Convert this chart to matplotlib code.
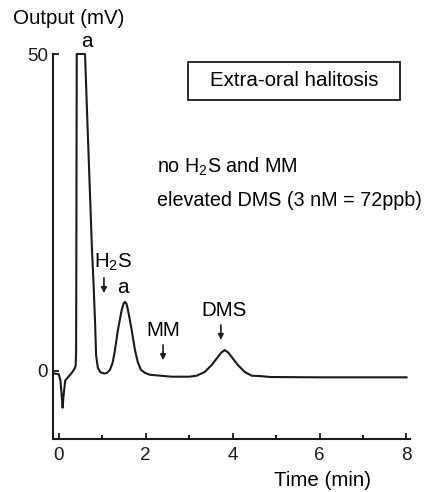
import matplotlib
matplotlib.use("Agg")
import matplotlib.pyplot as plt
from matplotlib.patches import Rectangle

plt.rcParams['font.family'] = ['Liberation Sans', 'DejaVu Sans']
plt.rcParams['mathtext.fontset'] = 'custom'
plt.rcParams['mathtext.rm'] = 'Liberation Sans'
plt.rcParams['mathtext.it'] = 'Liberation Sans:italic'

# detector trace, read point by point (detector saturates at 50 mV)
time_min = [-0.10, 0.00, 0.04, 0.07, 0.09, 0.11, 0.15, 0.20, 0.30, 0.36,
            0.39, 0.40, 0.405, 0.41, 0.415, 0.605, 0.674, 0.766, 0.80, 0.84,
            0.86, 0.90, 0.96, 1.05, 1.11, 1.18, 1.241, 1.294, 1.363, 1.448,
            1.49, 1.524, 1.56, 1.594, 1.678, 1.754, 1.823, 1.89, 1.984, 2.10,
            2.60, 3.00, 3.17, 3.36, 3.52, 3.66, 3.74, 3.82, 3.90, 3.98,
            4.12, 4.28, 4.44, 4.63, 4.86, 6.00, 8.00]
output_mv = [-0.4, -0.5, -1.5, -4.0, -5.8, -4.0, -1.5, -1.1, -0.3, 0.3,
             0.8, 3.0, 15.0, 35.0, 50.0, 50.0, 36.6, 19.0, 14.0, 7.0,
             2.5, 0.5, -0.2, -0.4, -0.3, 0.2, 1.3, 3.3, 6.5, 9.6,
             10.6, 10.9, 10.6, 9.6, 6.5, 3.3, 1.3, 0.2, -0.3, -0.6,
             -0.9, -0.9, -0.75, -0.15, 0.95, 2.2, 2.9, 3.3, 2.9, 2.2,
             0.95, -0.15, -0.75, -0.8, -0.95, -1.0, -1.0]

x_major = [0, 2, 4, 6, 8]
x_minor = [1, 3, 5, 7]
y_ticks = [0, 50]

fig = plt.figure(figsize=(4.30, 4.92), dpi=100)
ax = fig.add_axes([0.1244, 0.1077, 0.829, 0.7825])

ax.plot(time_min, output_mv, color='#1a1a1a', lw=1.5, clip_on=False,
        solid_joinstyle='round')

ax.set_xlim(-0.12, 8.08)
ax.set_ylim(-10.73, 50)
ax.set_xticks(x_major)
ax.set_xticks(x_minor, minor=True)
ax.set_yticks(y_ticks)
ax.tick_params(direction='in', length=4, width=1.3, labelsize=13.5, colors='#1a1a1a')
ax.tick_params(axis='x', which='minor', direction='in', length=3, width=1.3)
ax.tick_params(axis='x', pad=6)
ax.tick_params(axis='y', pad=4)
for side in ('top', 'right'):
    ax.spines[side].set_visible(False)
for side in ('left', 'bottom'):
    ax.spines[side].set_linewidth(1.5)
    ax.spines[side].set_color('#1a1a1a')

fs = 14.8
fig.text(69 / 430, 1 - 18 / 492, 'Output (mV)', ha='center', va='center', fontsize=fs)
fig.text(323 / 430, 1 - 480 / 492, 'Time (min)', ha='center', va='center', fontsize=fs)

# peak labels and arrows
ax.text(0.65, 51.9, 'a', ha='center', va='center', fontsize=fs)
ax.text(1.25, 17.2, 'H$_2$S', ha='center', va='center', fontsize=fs)
ax.text(1.48, 13.1, 'a', ha='center', va='center', fontsize=fs)
ax.text(2.40, 6.4, 'MM', ha='center', va='center', fontsize=fs)
ax.text(3.80, 9.6, 'DMS', ha='center', va='center', fontsize=fs)
arrow = dict(arrowstyle='-|>', lw=1.2, color='#1a1a1a', mutation_scale=8, shrinkA=0, shrinkB=0)
ax.annotate('', xy=(1.04, 12.3), xytext=(1.04, 14.7), arrowprops=arrow)
ax.annotate('', xy=(2.40, 1.7), xytext=(2.40, 4.1), arrowprops=arrow)
ax.annotate('', xy=(3.73, 4.9), xytext=(3.73, 7.25), arrowprops=arrow)

# title box
fig.patches.append(Rectangle((188 / 430, 1 - 100 / 492), 212 / 430, 38 / 492,
                             transform=fig.transFigure, fill=False,
                             edgecolor='#1a1a1a', lw=1.3))
fig.text(294 / 430, 1 - 81 / 492, 'Extra-oral halitosis', ha='center', va='center', fontsize=fs)

fs_note = 14.2
fig.text(157 / 430, 1 - 167 / 492, 'no H$_2$S and MM', ha='left', va='center', fontsize=fs_note)
fig.text(157 / 430, 1 - 200 / 492, 'elevated DMS (3 nM = 72ppb)', ha='left', va='center', fontsize=fs_note)

fig.savefig('out.png', dpi=100, facecolor='white')
